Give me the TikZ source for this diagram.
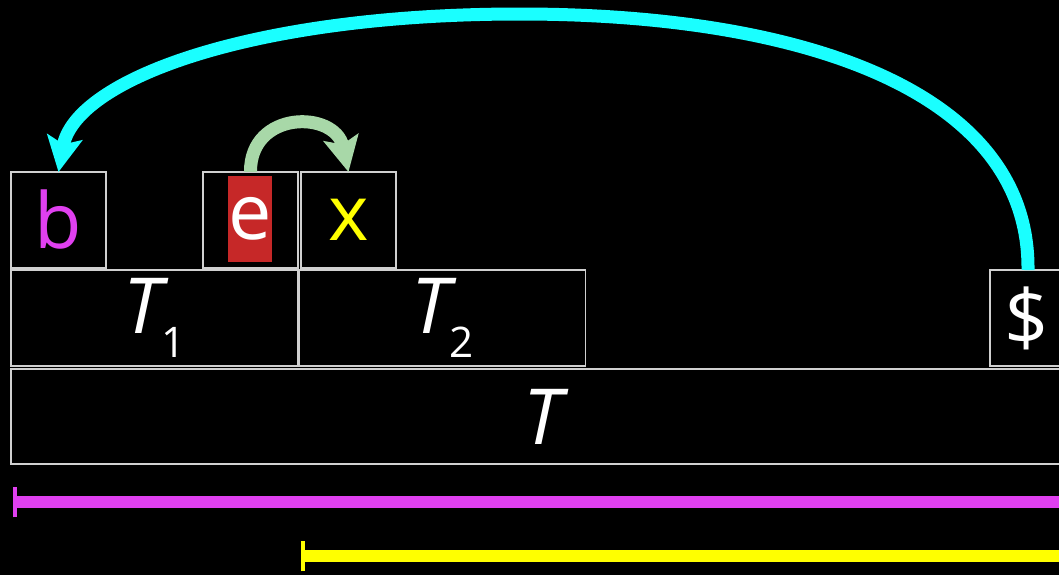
\documentclass[tikz,border=0pt]{standalone}
\usepackage{fontspec}
\setmainfont{Open Sans}
\usetikzlibrary{arrows.meta,calc}

\definecolor{boxgray}{HTML}{D0D0D0}
\definecolor{bmag}{HTML}{E040F0}
\definecolor{xyel}{HTML}{FFFF00}
\definecolor{ered}{HTML}{C62828}
\definecolor{jumpcyan}{HTML}{1AFFFF}
\definecolor{swapgreen}{HTML}{A8D8A8}

\newcommand{\bigtext}{\fontsize{44}{46}\selectfont}
\newcommand{\subtext}[1]{\raisebox{-13.6pt}{\fontsize{24}{24}\selectfont #1}}

\tikzset{
    cell/.style={draw=boxgray, line width=0.6pt, inner sep=0pt, outer sep=0pt,
                 anchor=north west, text=white, font=\bigtext},
    span/.style={line width=7pt, {Bar[width=17.6pt, line width=2.5pt]}-},
    jump/.style={line width=7.4pt, -{Stealth[length=20pt, width=20pt, inset=4pt]}}
}

\begin{document}
\begin{tikzpicture}[x=0.02cm, y=-0.02cm]
        \fill[black] (0,0) rectangle (1059,575);
        \useasboundingbox (0,0) rectangle (1059,575);
        \clip (0,0) rectangle (1059,575);

        % top row of letters
        \node[cell, minimum width=1.9cm, minimum height=1.92cm, text=bmag]
            (b) at (11,172) {b};
        \node[cell, minimum width=1.9cm, minimum height=1.92cm]
            (e) at (203,172) {};
        \node[fill=ered, text=white, font=\bigtext, inner sep=0pt,
              minimum width=0.88cm, minimum height=1.74cm]
            (ehl) at ($(e.center)+(0,-1)$) {e};
        \node[cell, minimum width=1.9cm, minimum height=1.92cm, text=xyel]
            (x) at (301,172) {x};

        % middle row
        \node[cell, minimum width=5.74cm, minimum height=1.92cm]
            (T1) at (11,270) {\itshape T\upshape\subtext{1}};
        \node[cell, minimum width=5.74cm, minimum height=1.92cm]
            (T2) at (299,270) {\itshape T\upshape\subtext{2}};
        \node[cell, minimum width=1.48cm, minimum height=1.92cm]
            (dollar) at (990,270) {\$};

        % bottom row
        \node[cell, minimum width=21.28cm, minimum height=1.9cm]
            (T) at (11,369) {\itshape T};

        % spans
        \coordinate (bspan) at (13,502);
        \coordinate (bspanend) at (1080,502);
        \coordinate (xspan) at (301,556);
        \coordinate (xspanend) at (1080,556);
        \draw[span, bmag] (bspan) -- (bspanend);
        \draw[span, xyel] (xspan) -- (xspanend);

        % arrows
        \draw[jump, jumpcyan]
            ($(dollar.north)+(1,0)$) .. controls (1030,90) and (800,14) .. (520,14)
            .. controls (250,14) and (75,80) .. (b.north);
        \draw[jump, swapgreen]
            (e.north) .. controls (250,110) and (335,110) .. (x.north);
\end{tikzpicture}
\end{document}
